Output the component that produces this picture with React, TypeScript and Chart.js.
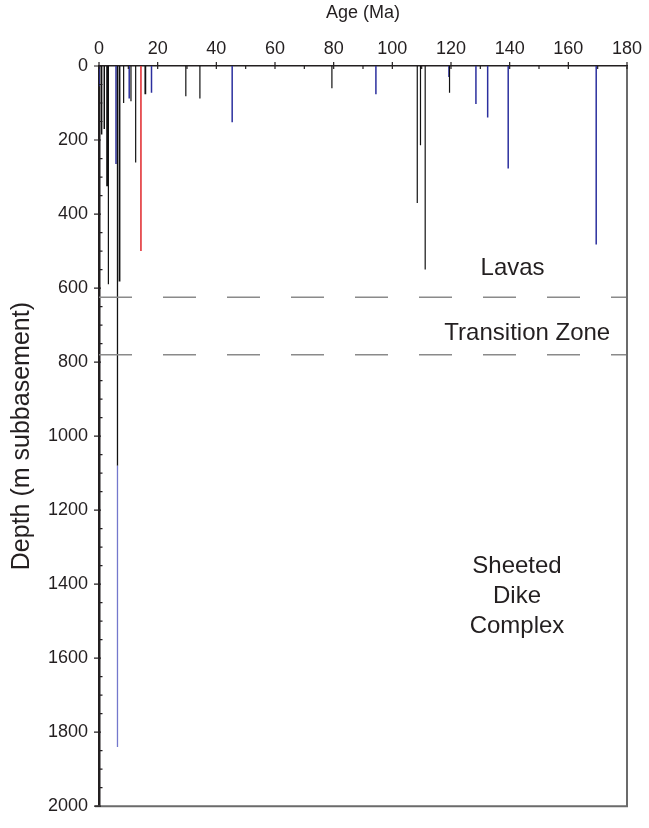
import React, { useEffect, useRef } from "react";
import { Chart, registerables } from "chart.js";

Chart.register(...registerables);

// Vertical bars: age (Ma) and depth reached (m subbasement)
const blackAges = [0.9, 1.8, 2.9, 3.2, 6.3, 7.0, 8.4, 10.9, 12.5, 15.8, 29.6, 34.4, 79.4, 108.5, 109.6, 111.2, 119.5];
const blackDepths = [185, 170, 325, 590, 1080, 582, 100, 95, 261, 76, 82, 88, 60, 370, 214, 550, 72];
const blackWidths = [1.5, 1.5, 2.6, 1.2, 1.3, 1.8, 1.2, 1.2, 1.2, 1.8, 1.2, 1.2, 1.2, 1.2, 1.2, 1.2, 1.2];

const blueAges = [0.0, 5.8, 10.3, 17.9, 45.4, 94.4, 119.3, 128.5, 132.5, 139.5, 169.5];
const blueDepths = [55, 265, 88, 72, 152, 76, 30, 103, 139, 277, 482];

const redAges = [14.3];
const redDepths = [500];

// deep hole continuation (lighter blue)
const deepAges = [6.3];
const deepTops = [1080];
const deepDepths = [1840];

// unit boundaries (m subbasement)
const boundaryDepths = [625, 780];

const xTicks = [0, 20, 40, 60, 80, 100, 120, 140, 160, 180];
const yTicks = [0, 200, 400, 600, 800, 1000, 1200, 1400, 1600, 1800, 2000];

const unitLabels = [
  { text: ["Lavas"], age: 141, depth: 548 },
  { text: ["Transition Zone"], age: 146, depth: 722 },
  { text: ["Sheeted", "Dike", "Complex"], age: 142.5, depth: 1432 },
];

const TEXT = "#231f20";
const FONT = "'Liberation Sans', Arial, Helvetica, sans-serif";

export default function App() {
  const ref = useRef<HTMLCanvasElement | null>(null);

  useEffect(() => {
    if (!ref.current) return;
    const seg = (a: number, y0: number, y1: number, color: string, w: number) => ({
      type: "line" as const,
      data: [
        { x: a, y: y0 },
        { x: a, y: y1 },
      ],
      borderColor: color,
      borderWidth: w,
      pointRadius: 0,
      showLine: true,
      fill: false,
    });

    const datasets: any[] = [];
    boundaryDepths.forEach((d) =>
      datasets.push({
        type: "line",
        data: [
          { x: 0, y: d },
          { x: 180, y: d },
        ],
        borderColor: "#8a8a8a",
        borderWidth: 1.5,
        borderDash: [33, 31],
        pointRadius: 0,
        showLine: true,
        fill: false,
      })
    );
    deepAges.forEach((a, i) => datasets.push(seg(a, deepTops[i], deepDepths[i], "#7478cc", 1.3)));
    blackAges.forEach((a, i) => datasets.push(seg(a, 0, blackDepths[i], "#111111", blackWidths[i])));
    blueAges.forEach((a, i) => datasets.push(seg(a, 0, blueDepths[i], "#2b2f9e", 1.5)));
    redAges.forEach((a, i) => datasets.push(seg(a, 0, redDepths[i], "#e0262b", 1.5)));

    const decor = {
      id: "decor",
      afterDraw(chart: any) {
        const { ctx, chartArea: ca, scales } = chart;
        const xs = scales.x;
        const ys = scales.y;
        ctx.save();
        // right & bottom frame
        ctx.strokeStyle = "#6b6b6b";
        ctx.lineWidth = 2;
        ctx.beginPath();
        ctx.moveTo(ca.right, ca.top);
        ctx.lineTo(ca.right, ca.bottom);
        ctx.moveTo(ca.left - 4, ca.bottom);
        ctx.lineTo(ca.right + 1, ca.bottom);
        ctx.stroke();
        // ticks
        ctx.strokeStyle = TEXT;
        ctx.lineWidth = 1.2;
        ctx.beginPath();
        for (let v = 0; v <= 180; v += 10) {
          const px = xs.getPixelForValue(v);
          const major = v % 20 === 0;
          ctx.moveTo(px, ca.top - (major ? 4 : 0));
          ctx.lineTo(px, ca.top + 3);
        }
        for (let v = 0; v <= 2000; v += 50) {
          const py = ys.getPixelForValue(v);
          const major = v % 200 === 0;
          ctx.moveTo(ca.left - (major ? 5 : 0), py);
          ctx.lineTo(ca.left + (major ? 2 : 3.5), py);
        }
        ctx.stroke();
        // unit labels
        ctx.fillStyle = TEXT;
        ctx.font = `24px ${FONT}`;
        ctx.textAlign = "center";
        ctx.textBaseline = "middle";
        unitLabels.forEach((l) => {
          const px = xs.getPixelForValue(l.age);
          const py = ys.getPixelForValue(l.depth);
          const lh = 30;
          l.text.forEach((t, i) => {
            ctx.fillText(t, px, py + (i - (l.text.length - 1) / 2) * lh);
          });
        });
        ctx.restore();
      },
    };

    const chart = new Chart(ref.current, {
      type: "scatter",
      data: { datasets },
      options: {
        animation: false,
        responsive: false,
        maintainAspectRatio: false,
        layout: { padding: { left: 0, right: 22, top: 0, bottom: 16 } },
        plugins: { legend: { display: false }, tooltip: { enabled: false } },
        scales: {
          x: {
            type: "linear",
            position: "top",
            min: 0,
            max: 180,
            afterBuildTicks: (s: any) => {
              s.ticks = xTicks.map((v) => ({ value: v }));
            },
            afterFit: (s: any) => {
              s.height = 66;
            },
            ticks: {
              font: { size: 18, family: FONT },
              color: TEXT,
              padding: 6,
              maxRotation: 0,
              callback: (v: any) => String(v),
            },
            grid: { display: false, drawTicks: false },
            border: { display: true, color: TEXT, width: 1.5 },
            title: {
              display: true,
              text: "Age (Ma)",
              color: TEXT,
              font: { size: 18, family: FONT },
              padding: { top: 2, bottom: 0 },
            },
          },
          y: {
            type: "linear",
            position: "left",
            reverse: true,
            min: 0,
            max: 2000,
            afterBuildTicks: (s: any) => {
              s.ticks = yTicks.map((v) => ({ value: v }));
            },
            afterFit: (s: any) => {
              s.width = 99;
            },
            ticks: {
              font: { size: 18, family: FONT },
              color: TEXT,
              padding: 11,
              callback: (v: any) => String(v),
            },
            grid: { display: false, drawTicks: false },
            border: { display: true, color: TEXT, width: 2.5 },
            title: {
              display: true,
              text: "Depth (m subbasement)",
              color: TEXT,
              font: { size: 25, family: FONT },
              padding: { top: 7, bottom: 0 },
            },
          },
        },
      },
      plugins: [decor],
    });
    return () => chart.destroy();
  }, []);

  return (
    <div style={{ position: "fixed", left: 0, top: 0, width: 649, height: 828, background: "#fff" }}>
      <canvas ref={ref} width={649} height={828} />
    </div>
  );
}
